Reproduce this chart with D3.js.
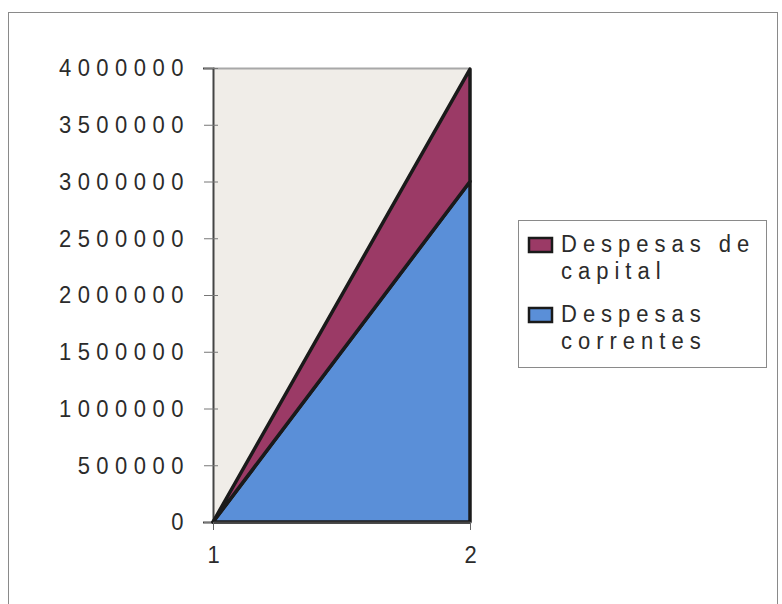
<!DOCTYPE html>
<html>
<head>
<meta charset="utf-8">
<script src="https://cdn.jsdelivr.net/npm/d3@7"></script>
<style>
  body { margin: 0; background: #fff; }
  svg text { font-family: "Liberation Sans", Arial, sans-serif; fill: #2b2b2b; }
</style>
</head>
<body>
<svg id="chart" width="782" height="604"></svg>
<script>
// Stacked area: current vs capital expenditure
const categories = ["1", "2"];
const correntes = [0, 3000000];
const capital = [0, 990000];
const seriesNames = ["Despesas correntes", "Despesas de capital"];
const yTicks = [0, 500000, 1000000, 1500000, 2000000, 2500000, 3000000, 3500000, 4000000];

const svg = d3.select("#chart");
const plot = { left: 213, right: 470, top: 68, bottom: 522 };
const stretch = "scale(1,1.1)"; // lettering in the original is a bit tall

// outer frame
svg.append("rect")
  .attr("x", 8.5).attr("y", 12.5).attr("width", 769).attr("height", 600)
  .attr("fill", "none").attr("stroke", "#8a8a8a").attr("stroke-width", 1);

const x = d3.scalePoint().domain(categories).range([plot.left, plot.right]);
const y = d3.scaleLinear().domain([0, 4000000]).range([plot.bottom, plot.top]);

// plot background
svg.append("rect")
  .attr("x", plot.left).attr("y", plot.top)
  .attr("width", plot.right - plot.left).attr("height", plot.bottom - plot.top)
  .attr("fill", "#f0ede8");
svg.append("line")
  .attr("x1", plot.left).attr("x2", plot.right)
  .attr("y1", plot.top + 0.5).attr("y2", plot.top + 0.5)
  .attr("stroke", "#a8a8a8").attr("stroke-width", 2);

const rows = categories.map((c, i) => ({ cat: c, correntes: correntes[i], capital: capital[i] }));
const stack = d3.stack().keys(["correntes", "capital"])(rows);
const colors = { correntes: "#5a8fd8", capital: "#9b3a66" };

const area = d3.area()
  .x(d => x(d.data.cat))
  .y0(d => y(d[0]))
  .y1(d => y(d[1]));

// axes
const yAxis = d3.axisLeft(y).tickValues(yTicks).tickSize(10).tickPadding(13)
  .tickFormat(d3.format("d"));
const gy = svg.append("g").attr("transform", `translate(${plot.left},0)`).call(yAxis);
gy.select(".domain").attr("stroke", "#444").attr("stroke-width", 2);
gy.selectAll(".tick line").attr("x2", -9).attr("x1", 5).attr("stroke", "#777");
gy.selectAll("text").attr("font-size", 22).attr("letter-spacing", "6.5px")
  .attr("fill", "#262626").attr("transform", stretch);

svg.append("g").selectAll("path")
  .data(stack)
  .join("path")
  .attr("d", area)
  .attr("fill", d => colors[d.key])
  .attr("stroke", "#1a1a1a")
  .attr("stroke-width", 3.5)
  .attr("stroke-linejoin", "round");

const xAxis = d3.axisBottom(x).tickSize(8).tickPadding(14).tickSizeOuter(0);
const gx = svg.append("g").attr("transform", `translate(0,${plot.bottom})`).call(xAxis);
gx.select(".domain").attr("stroke", "#444").attr("stroke-width", 2);
gx.selectAll(".tick line").attr("stroke", "#666");
gx.selectAll("text").attr("font-size", 22).attr("fill", "#262626").attr("transform", stretch);

// legend
const legend = svg.append("g");
legend.append("rect")
  .attr("x", 518.5).attr("y", 220.5).attr("width", 248).attr("height", 147)
  .attr("fill", "#fff").attr("stroke", "#8a8a8a");
const legendItems = [
  { key: "capital", lines: ["Despesas de", "capital"], y: 252 },
  { key: "correntes", lines: ["Despesas", "correntes"], y: 322 }
];
legendItems.forEach(it => {
  legend.append("rect")
    .attr("x", 529).attr("y", it.y - 14).attr("width", 23).attr("height", 14)
    .attr("fill", colors[it.key]).attr("stroke", "#1a1a1a").attr("stroke-width", 2.5);
  it.lines.forEach((ln, j) => {
    legend.append("text")
      .attr("transform", `translate(561,${it.y + j * 26.5}) ${stretch}`)
      .attr("font-size", 22).attr("letter-spacing", "6px")
      .attr("fill", "#262626")
      .text(ln);
  });
});
</script>
</body>
</html>
